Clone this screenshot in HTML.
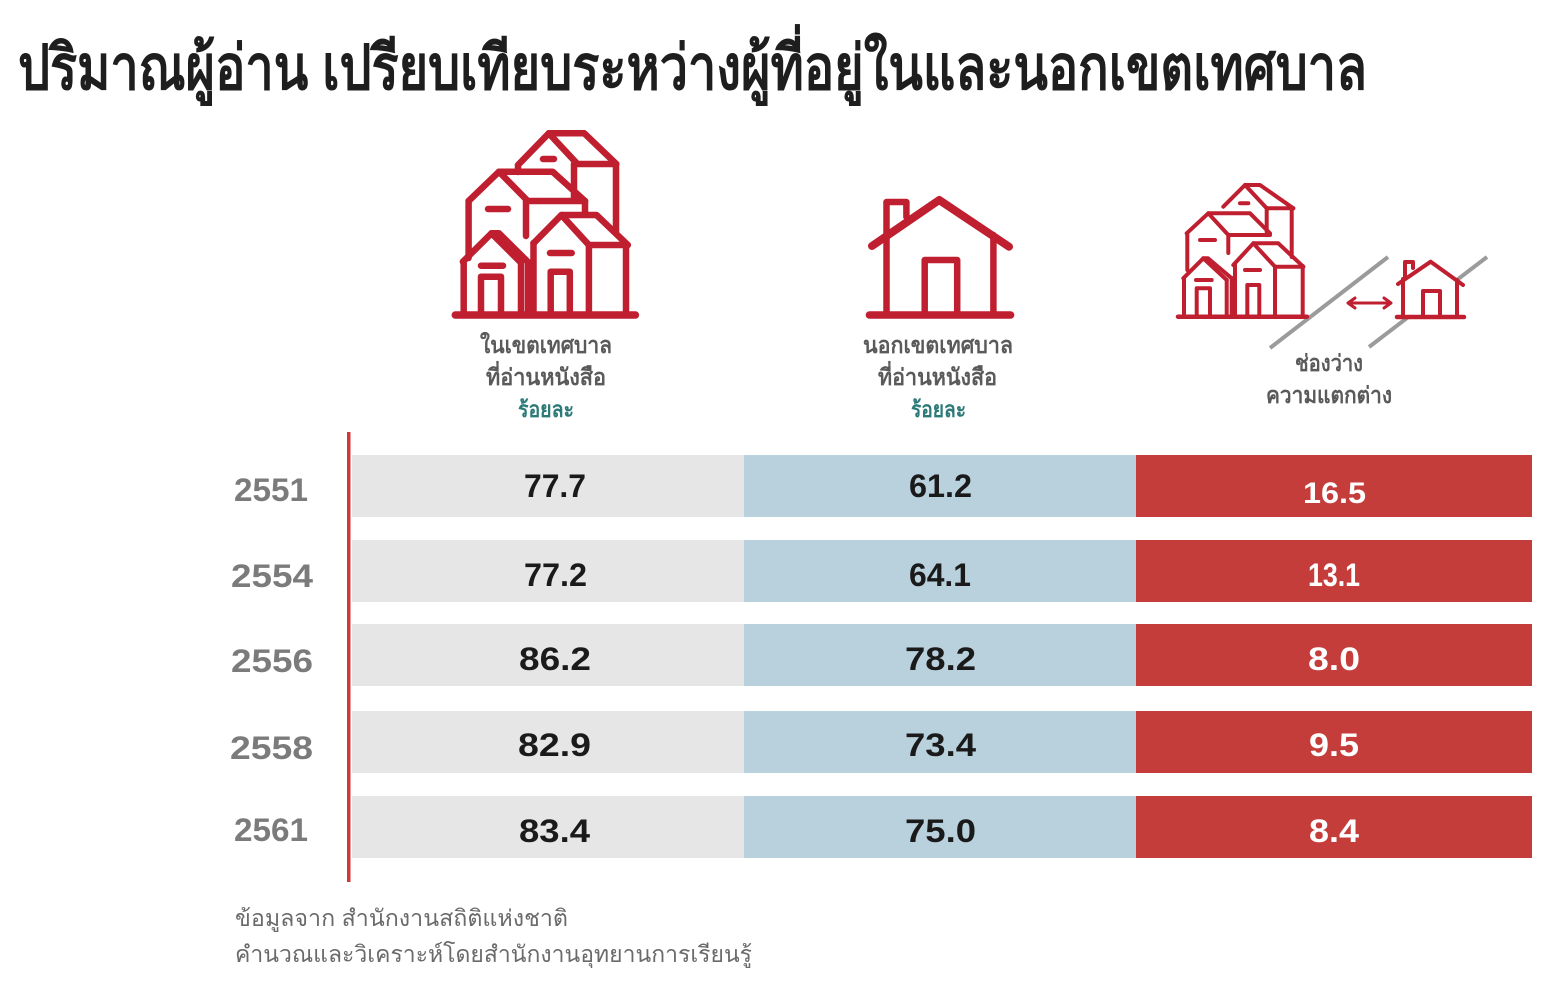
<!DOCTYPE html>
<html><head><meta charset="utf-8">
<style>
html,body{margin:0;padding:0;background:#fff;}
svg{display:block;}
text{font-family:"Liberation Sans","Noto Sans CJK SC",sans-serif;}
</style></head>
<body>
<svg width="1550" height="990" viewBox="0 0 1550 990" xmlns="http://www.w3.org/2000/svg">
<rect width="1550" height="990" fill="#fff"/>

<!-- Title -->
<text x="18" y="89" font-size="62" font-weight="bold" fill="#1e1e1e" textLength="1349" lengthAdjust="spacingAndGlyphs">ปริมาณผู้อ่าน เปรียบเทียบระหว่างผู้ที่อยู่ในและนอกเขตเทศบาล</text>

<!-- Big city icon -->
<g fill="none" stroke="#c01f30" stroke-width="6.5" stroke-linecap="round" stroke-linejoin="round">
  <path d="M518,172 V165 L548.8,133.3 L584.3,133.3 L616.3,164"/>
  <path d="M548.8,133.3 L577.4,164 H616.3"/>
  <path d="M616,164 V232"/>
  <path d="M574,164 V200"/>
  <path d="M543,159 H554"/>
  <path d="M468.6,201 L499,171.7 L552.6,171.7 L585,201"/>
  <path d="M499,171.7 L527.8,201 H585"/>
  <path d="M468.6,201 V258"/>
  <path d="M526,201 V236"/>
  <path d="M585,201 V212"/>
  <path d="M488,209 H508"/>
  <path d="M533.5,243.3 L561.4,215 L596.5,215 L627.8,245"/>
  <path d="M561.4,215 L588.9,245 H627.8"/>
  <path d="M533.5,243 V315"/>
  <path d="M588.9,245 V315"/>
  <path d="M626,246 V315"/>
  <path d="M550,253 H571.7"/>
  <path d="M550.7,315 V271.7 H569.8 V315"/>
  <path d="M462.9,261.7 L491.5,233.3 L520,261.7"/>
  <path d="M491.5,233.3 H499 L528,262"/>
  <path d="M463.7,262 V315"/>
  <path d="M521,262 V315"/>
  <path d="M528,262 V315"/>
  <path d="M481,265.7 H503"/>
  <path d="M481,315 V276.7 H501 V315"/>
  <path d="M455.3,315 H635.4" stroke-width="7.5"/>
</g>

<!-- Big single house icon -->
<g fill="none" stroke="#c01f30" stroke-width="6.5" stroke-linecap="round" stroke-linejoin="round">
  <path d="M872,246 L939.2,200 L1009,246.7" stroke-width="8"/>
  <path d="M886.5,236 V202 H906.4 V217"/>
  <path d="M886.5,236 V315"/>
  <path d="M993.4,235 V315"/>
  <path d="M924.7,315 V260 H957.2 V315"/>
  <path d="M869.4,315 H1010.6" stroke-width="7.5"/>
</g>

<!-- Gap icon -->
<g fill="none" stroke="#9b9b9b" stroke-width="4">
  <path d="M1270,348 L1388,257"/>
  <path d="M1369,347 L1487,257"/>
</g>
<polygon points="1403,280 1430.7,262 1457,280 1457,317 1403,317" fill="#fff"/>
<g fill="none" stroke="#c01f30" stroke-width="4" stroke-linecap="round" stroke-linejoin="round">
  <path d="M1223.3,206.7 L1245,185 L1260,185 L1293.3,208.3"/>
  <path d="M1245,185 L1266.7,208.3 H1293.3"/>
  <path d="M1291.7,208 V257"/>
  <path d="M1266.7,208 V232"/>
  <path d="M1240,203.3 H1248.3"/>
  <path d="M1186.7,233.3 L1208.3,213.3 L1250,213.3 L1270,233.3"/>
  <path d="M1208.3,213.3 L1228.3,235 H1270"/>
  <path d="M1187.3,233 V270"/>
  <path d="M1228.3,235 V253"/>
  <path d="M1200,240 H1215"/>
  <path d="M1233.3,265 L1253.3,243.3 L1278.3,243.3 L1303.3,266.7"/>
  <path d="M1253.3,243.3 L1275,266.7 H1303.3"/>
  <path d="M1235,265 V316"/>
  <path d="M1275,266.7 V316"/>
  <path d="M1302.7,266 V316"/>
  <path d="M1245,270 H1260"/>
  <path d="M1247.3,316 V285 H1259.3 V316"/>
  <path d="M1183.3,278.3 L1203.3,258.3 L1226.7,280"/>
  <path d="M1203.3,258.3 H1208 L1231.7,278.3"/>
  <path d="M1184,278 V316"/>
  <path d="M1226.7,280 V316"/>
  <path d="M1231.7,278 V316"/>
  <path d="M1196,280 H1211.7"/>
  <path d="M1196.7,316 V288.3 H1210 V316"/>
  <path d="M1178,316.7 H1307" stroke-width="4.5"/>
  <path d="M1398,284 L1430.7,261.7 L1463,285"/>
  <path d="M1405,278 V262 H1413 V268"/>
  <path d="M1403,279 V317"/>
  <path d="M1457,280 V317"/>
  <path d="M1423,317 V291 H1440 V317"/>
  <path d="M1397,317 H1464" stroke-width="4.5"/>
  <path d="M1349,303 H1390" stroke-width="3"/>
  <path d="M1355,298 L1348,303 L1355,308" stroke-width="3"/>
  <path d="M1384,298 L1391,303 L1384,308" stroke-width="3"/>
</g>

<!-- Column labels -->
<g font-size="23" font-weight="bold" fill="#5a5a5a">
  <text x="480" y="353" textLength="132" lengthAdjust="spacingAndGlyphs">ในเขตเทศบาล</text>
  <text x="486" y="385" textLength="120" lengthAdjust="spacingAndGlyphs">ที่อ่านหนังสือ</text>
  <text x="863" y="353" textLength="150" lengthAdjust="spacingAndGlyphs">นอกเขตเทศบาล</text>
  <text x="878" y="385" textLength="119" lengthAdjust="spacingAndGlyphs">ที่อ่านหนังสือ</text>
  <text x="1295" y="371" textLength="68" lengthAdjust="spacingAndGlyphs">ช่องว่าง</text>
  <text x="1266" y="403" textLength="126" lengthAdjust="spacingAndGlyphs">ความแตกต่าง</text>
</g>
<g font-size="22" font-weight="bold" fill="#2b7a78">
  <text x="518" y="417" textLength="56" lengthAdjust="spacingAndGlyphs">ร้อยละ</text>
  <text x="911" y="417" textLength="55" lengthAdjust="spacingAndGlyphs">ร้อยละ</text>
</g>

<!-- Bars -->
<g>
  <rect x="352" y="455" width="392" height="62" fill="#e6e6e6"/>
  <rect x="744" y="455" width="392" height="62" fill="#b9d0dd"/>
  <rect x="1136" y="455" width="396" height="62" fill="#c43d3b"/>

  <rect x="352" y="540" width="392" height="62" fill="#e6e6e6"/>
  <rect x="744" y="540" width="392" height="62" fill="#b9d0dd"/>
  <rect x="1136" y="540" width="396" height="62" fill="#c43d3b"/>

  <rect x="352" y="624" width="392" height="62" fill="#e6e6e6"/>
  <rect x="744" y="624" width="392" height="62" fill="#b9d0dd"/>
  <rect x="1136" y="624" width="396" height="62" fill="#c43d3b"/>

  <rect x="352" y="711" width="392" height="62" fill="#e6e6e6"/>
  <rect x="744" y="711" width="392" height="62" fill="#b9d0dd"/>
  <rect x="1136" y="711" width="396" height="62" fill="#c43d3b"/>

  <rect x="352" y="796" width="392" height="62" fill="#e6e6e6"/>
  <rect x="744" y="796" width="392" height="62" fill="#b9d0dd"/>
  <rect x="1136" y="796" width="396" height="62" fill="#c43d3b"/>
</g>

<!-- Axis line -->
<rect x="347" y="432" width="3.5" height="450" fill="#cc3a3a"/>

<!-- Year labels -->
<g font-size="32" font-weight="bold" fill="#7b7b7b">
  <text x="234" y="501" textLength="74" lengthAdjust="spacingAndGlyphs">2551</text>
  <text x="231" y="587" textLength="82" lengthAdjust="spacingAndGlyphs">2554</text>
  <text x="231" y="672" textLength="82" lengthAdjust="spacingAndGlyphs">2556</text>
  <text x="230" y="759" textLength="83" lengthAdjust="spacingAndGlyphs">2558</text>
  <text x="234" y="841" textLength="74" lengthAdjust="spacingAndGlyphs">2561</text>
</g>

<!-- Values -->
<g font-size="32" font-weight="bold" fill="#1a1a1a">
  <text x="524" y="497" textLength="62" lengthAdjust="spacingAndGlyphs">77.7</text>
  <text x="909" y="497" textLength="63" lengthAdjust="spacingAndGlyphs">61.2</text>
  <text x="524" y="586" textLength="63" lengthAdjust="spacingAndGlyphs">77.2</text>
  <text x="909" y="586" textLength="62" lengthAdjust="spacingAndGlyphs">64.1</text>
  <text x="519" y="670" textLength="72" lengthAdjust="spacingAndGlyphs">86.2</text>
  <text x="905" y="670" textLength="71" lengthAdjust="spacingAndGlyphs">78.2</text>
  <text x="518" y="756" textLength="73" lengthAdjust="spacingAndGlyphs">82.9</text>
  <text x="905" y="756" textLength="71" lengthAdjust="spacingAndGlyphs">73.4</text>
  <text x="519" y="842" textLength="71" lengthAdjust="spacingAndGlyphs">83.4</text>
  <text x="905" y="842" textLength="71" lengthAdjust="spacingAndGlyphs">75.0</text>
</g>
<g font-size="32" font-weight="bold" fill="#ffffff">
  <text x="1303" y="503" textLength="63" lengthAdjust="spacingAndGlyphs" font-size="30">16.5</text>
  <text x="1308" y="586" textLength="52" lengthAdjust="spacingAndGlyphs">13.1</text>
  <text x="1308" y="670" textLength="52" lengthAdjust="spacingAndGlyphs">8.0</text>
  <text x="1309" y="756" textLength="50" lengthAdjust="spacingAndGlyphs">9.5</text>
  <text x="1309" y="842" textLength="50" lengthAdjust="spacingAndGlyphs">8.4</text>
</g>

<!-- Footer -->
<g font-size="23" fill="#6a6a6a">
  <text x="235" y="926" textLength="333" lengthAdjust="spacingAndGlyphs">ข้อมูลจาก  สำนักงานสถิติแห่งชาติ</text>
  <text x="235" y="962" textLength="517" lengthAdjust="spacingAndGlyphs">คำนวณและวิเคราะห์โดยสำนักงานอุทยานการเรียนรู้</text>
</g>
</svg>
</body></html>
